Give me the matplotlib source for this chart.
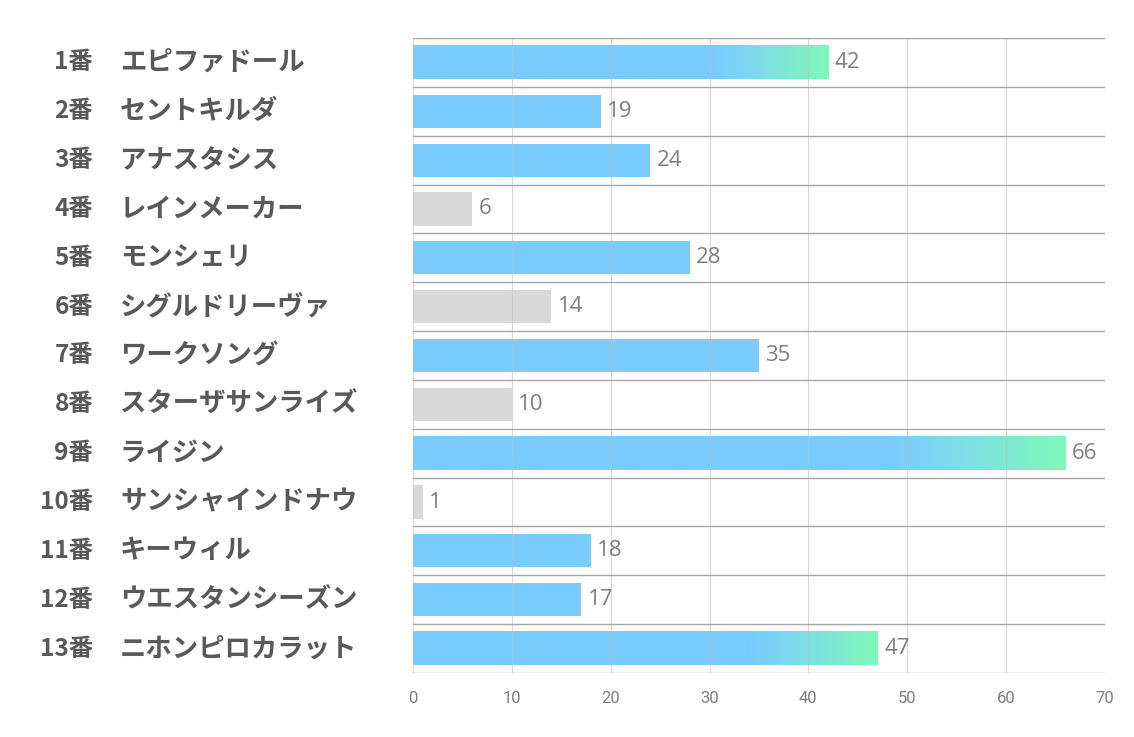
import matplotlib
matplotlib.use("Agg")
import matplotlib.pyplot as plt
import matplotlib.transforms as mtransforms
import numpy as np
from matplotlib.colors import LinearSegmentedColormap

plt.rcParams['font.family'] = ['Noto Sans CJK JP', 'DejaVu Sans']

numbers = ["1番", "2番", "3番", "4番", "5番", "6番", "7番", "8番", "9番", "10番", "11番", "12番", "13番"]
names = ["エピファドール", "セントキルダ", "アナスタシス", "レインメーカー", "モンシェリ", "シグルドリーヴァ",
         "ワークソング", "スターザサンライズ", "ライジン", "サンシャインドナウ", "キーウィル", "ウエスタンシーズン",
         "ニホンピロカラット"]
values = [42, 19, 24, 6, 28, 14, 35, 10, 66, 1, 18, 17, 47]
grey_flags = [False, False, False, True, False, True, False, True, False, True, False, False, False]
gradient_flags = [True, False, False, False, False, False, False, False, True, False, False, False, True]
xticks = [0, 10, 20, 30, 40, 50, 60, 70]

BLUE = "#7ACBFE"
GREY = "#D9D9D9"
GREEN = "#7FF9B8"

fig = plt.figure(figsize=(11.34, 7.37), dpi=100)
ax = fig.add_axes([413/1134, 1 - 673/737, (1105-413)/1134, (673-38)/737])

n = len(values)
bh = 0.68

cmap = LinearSegmentedColormap.from_list("g", [(0, BLUE), (0.72, BLUE), (0.8, "#7DD6F3"), (1.0, GREEN)])

for i, (v, g, gr) in enumerate(zip(values, grey_flags, gradient_flags)):
    color = GREY if g else BLUE
    if gr:
        grad = np.linspace(0, 1, 256).reshape(1, -1)
        ax.imshow(grad, cmap=cmap, aspect='auto', extent=(0, v, i + bh/2, i - bh/2),
                  zorder=2, interpolation='bilinear')
    else:
        ax.barh(i, v, height=bh, color=color, zorder=2, linewidth=0)
    ax.text(v + 0.65, i, str(v), va='center', ha='left', fontsize=16, color="#7F7F7F",
            family=['Open Sans', 'DejaVu Sans'], zorder=4)

ax.set_xlim(0, 70)
ax.set_ylim(n - 0.5, -0.5)

for x in xticks:
    ax.axvline(x, color="#BFBFBF", lw=0.8, alpha=0.6, zorder=3)
for k in range(n + 1):
    ax.axhline(k - 0.5, color="#A6A6A6", lw=1.0, zorder=3)

for s in ax.spines.values():
    s.set_visible(False)
ax.set_xticks(xticks)
ax.set_xticklabels([str(t) for t in xticks], fontsize=12, color="#7F7F7F",
                   family=['Liberation Sans Narrow', 'Roboto', 'DejaVu Sans'])
ax.tick_params(axis='x', length=0, pad=13)
ax.set_yticks([])

trans = mtransforms.blended_transform_factory(fig.transFigure, ax.transData)
for i in range(n):
    ax.text(93/1134, i, numbers[i], transform=trans,
            ha='right', va='center', fontsize=17.5, fontweight='bold', color="#595959")
    ax.text(120/1134, i, names[i], transform=trans,
            ha='left', va='center', fontsize=19, fontweight='bold', color="#595959")

fig.savefig("out.png", dpi=100)
